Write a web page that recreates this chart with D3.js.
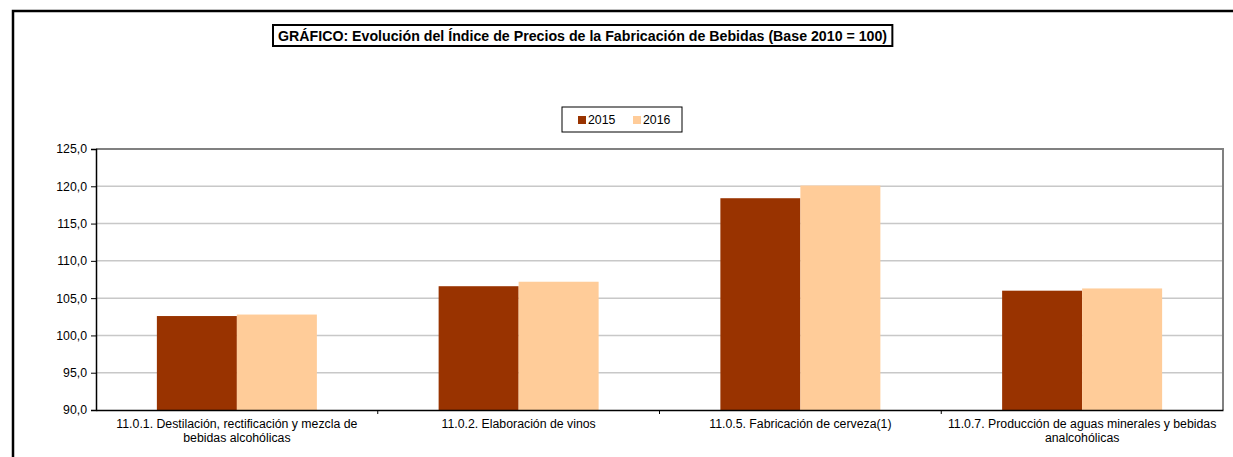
<!DOCTYPE html>
<html lang="es">
<head>
  <meta charset="UTF-8">
  <title>Índice de Precios de la Fabricación de Bebidas</title>
  <script src="https://d3js.org/d3.v7.min.js"></script>
  <style>
    body { margin: 0; background: #fff; }
    svg { display: block; font-family: "Liberation Sans", Arial, sans-serif; }
    .grid line { stroke: #c8c8c8; stroke-width: 1.5px; }
    .tick text { fill: #000; }
  </style>
</head>
<body>
<svg width="1233" height="457"></svg>
<script>
  // datos del gráfico
  const categories = [
    "11.0.1. Destilación, rectificación y mezcla de bebidas alcohólicas",
    "11.0.2. Elaboración de vinos",
    "11.0.5. Fabricación de cerveza(1)",
    "11.0.7. Producción de aguas minerales y bebidas analcohólicas"
  ];
  const years = ["2015", "2016"];
  const values2015 = [102.6, 106.6, 118.4, 106.0];
  const values2016 = [102.8, 107.2, 120.1, 106.3];
  const yTicks = [90, 95, 100, 105, 110, 115, 120, 125];
  const colors = ["#993300", "#FFCC99"];
  const title = "GRÁFICO: Evolución del Índice de Precios de la Fabricación de Bebidas (Base 2010 = 100)";

  const svg = d3.select("svg");
  const x0 = 96, x1 = 1223, y0 = 410, y1 = 149;
  const fs = 12.3;

  const data = categories.map((c, i) => ({ cat: c, vals: [values2015[i], values2016[i]] }));

  const x = d3.scaleBand().domain(categories).range([x0, x1]).paddingInner(0).paddingOuter(0);
  const xs = d3.scaleBand().domain(years).range([0, 160]);
  const y = d3.scaleLinear().domain([90, 125]).range([y0, y1]);

  // marco exterior
  svg.append("path")
    .attr("d", `M13,460V11H1240`)
    .attr("fill", "none").attr("stroke", "#000").attr("stroke-width", 2.5);

  // título
  const tg = svg.append("g");
  const tt = tg.append("text")
    .attr("x", 278).attr("y", 41)
    .attr("font-size", 14.2).attr("font-weight", "bold")
    .text(title);
  const tb = tt.node().getBBox();
  tg.insert("rect", "text")
    .attr("x", tb.x - 5).attr("y", 25)
    .attr("width", tb.width + 10).attr("height", 21)
    .attr("fill", "#fff").attr("stroke", "#000").attr("stroke-width", 2);

  // leyenda
  const lg = svg.append("g").attr("transform", "translate(562,107)");
  lg.append("rect").attr("width", 120).attr("height", 25)
    .attr("fill", "#fff").attr("stroke", "#000").attr("stroke-width", 1);
  years.forEach((yr, i) => {
    const g = lg.append("g").attr("transform", `translate(${16 + i * 55},0)`);
    g.append("rect").attr("y", 9).attr("width", 8).attr("height", 8).attr("fill", colors[i]);
    g.append("text").attr("x", 10).attr("y", 17).attr("font-size", 12.3).text(yr);
  });

  // rejilla
  svg.append("g").attr("class", "grid")
    .selectAll("line").data(yTicks.filter(t => t > 90 && t < 125)).join("line")
    .attr("x1", x0).attr("x2", x1)
    .attr("y1", d => y(d)).attr("y2", d => y(d));

  // borde del área de trazado
  svg.append("path")
    .attr("d", `M${x0},${y1}H${x1}V${y0}`)
    .attr("fill", "none").attr("stroke", "#808080").attr("stroke-width", 2);

  // barras
  svg.append("g").selectAll("g").data(data).join("g")
    .attr("transform", d => `translate(${x(d.cat) + (x.bandwidth() - 160) / 2},0)`)
    .selectAll("rect").data(d => d.vals.map((v, i) => ({ yr: years[i], v, i }))).join("rect")
    .attr("x", d => xs(d.yr))
    .attr("width", xs.bandwidth())
    .attr("y", d => y(d.v))
    .attr("height", d => y0 - y(d.v))
    .attr("fill", d => colors[d.i]);

  // eje Y
  const yAxis = svg.append("g").attr("transform", `translate(${x0},0)`)
    .call(d3.axisLeft(y).tickValues(yTicks).tickSize(5).tickPadding(4)
      .tickFormat(d => d3.format(".1f")(d).replace(".", ",")));
  yAxis.select(".domain").attr("stroke", "#000").attr("stroke-width", 1.5);
  yAxis.selectAll(".tick line").attr("stroke", "#000");
  yAxis.selectAll("text").attr("font-size", fs).attr("font-family", "Liberation Sans, Arial, sans-serif");

  // eje X
  const xAxis = svg.append("g").attr("transform", `translate(0,${y0})`)
    .call(d3.axisBottom(x).tickSize(0).tickPadding(9));
  xAxis.select(".domain").attr("stroke", "#000").attr("stroke-width", 1.5);
  xAxis.selectAll("text").attr("font-size", fs).attr("font-family", "Liberation Sans, Arial, sans-serif")
    .call(wrap, 276);
  xAxis.append("g").selectAll("line").data(categories.slice(1)).join("line")
    .attr("x1", d => x(d)).attr("x2", d => x(d))
    .attr("y1", 0).attr("y2", 4).attr("stroke", "#000");

  function wrap(texts, width) {
    texts.each(function () {
      const text = d3.select(this);
      const words = text.text().split(/\s+/);
      const yy = text.attr("y");
      text.text(null);
      let line = [];
      let lineNo = 0;
      let tspan = text.append("tspan").attr("x", 0).attr("y", yy).attr("dy", "0.71em");
      for (const w of words) {
        line.push(w);
        tspan.text(line.join(" "));
        if (tspan.node().getComputedTextLength() > width && line.length > 1) {
          line.pop();
          tspan.text(line.join(" "));
          line = [w];
          lineNo++;
          tspan = text.append("tspan").attr("x", 0).attr("y", yy)
            .attr("dy", (0.71 + lineNo * 1.15) + "em").text(w);
        }
      }
    });
  }
</script>
</body>
</html>
